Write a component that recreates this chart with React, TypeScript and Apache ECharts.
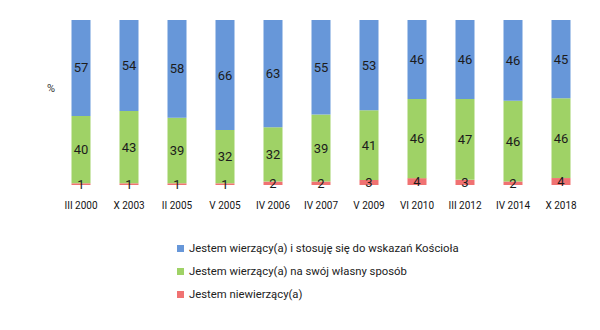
import React, { useEffect, useRef } from "react";
import * as echarts from "echarts";

const categories = [
  "III 2000", "X 2003", "II 2005", "V 2005", "IV 2006", "IV 2007",
  "V 2009", "VI 2010", "III 2012", "IV 2014", "X 2018",
];
const seriesNames = [
  "Jestem wierzący(a) i stosuję się do wskazań Kościoła",
  "Jestem wierzący(a) na swój własny sposób",
  "Jestem niewierzący(a)",
];
const followChurch = [57, 54, 58, 66, 63, 55, 53, 46, 46, 46, 45];
const ownWay = [40, 43, 39, 32, 32, 39, 41, 46, 47, 46, 46];
const nonBelievers = [1, 1, 1, 1, 2, 2, 3, 4, 3, 2, 4];
const colors = ["#6797d9", "#9fd266", "#f07272"];

export default function App() {
  const ref = useRef<HTMLDivElement>(null);
  useEffect(() => {
    if (!ref.current) return;
    const chart = echarts.init(ref.current, undefined, { renderer: "svg" });
    const raw = [nonBelievers, ownWay, followChurch];
    const names = [seriesNames[2], seriesNames[1], seriesNames[0]];
    const cols = [colors[2], colors[1], colors[0]];
    // each column is scaled to 100% of the answers shown
    const totals = categories.map((_, i) => raw.reduce((s, arr) => s + arr[i], 0));
    const series = raw.map((arr, k) => ({
      name: names[k],
      type: "bar",
      stack: "all",
      barWidth: 19,
      itemStyle: { color: cols[k] },
      data: arr.map((v, i) => ({ value: (v / totals[i]) * 100, raw: v })),
      label: {
        show: true,
        position: "inside",
        color: "#1c1c1c",
        fontSize: 13,
        fontFamily: "Roboto",
        formatter: (p: any) => String(p.data.raw),
      },
    }));
    chart.setOption({
      animation: false,
      grid: { left: 57, right: 15, top: 20, bottom: 145 },
      xAxis: {
        type: "category",
        data: categories,
        axisLine: { show: false },
        axisTick: { show: false },
        axisLabel: {
          color: "#151515",
          fontSize: 10,
          fontFamily: "Roboto",
          margin: 15,
          interval: 0,
        },
      },
      yAxis: {
        type: "value",
        min: 0,
        max: 100,
        show: false,
      },
      legend: {
        orient: "vertical",
        left: 172,
        top: 238,
        itemWidth: 7,
        itemHeight: 7,
        itemGap: 12,
        icon: "rect",
        data: [seriesNames[0], seriesNames[1], seriesNames[2]],
        textStyle: { color: "#222", fontSize: 11.3, fontFamily: "Roboto" },
      },
      graphic: [
        {
          type: "text",
          left: 47,
          top: 83,
          style: { text: "%", fill: "#333", fontSize: 11, fontFamily: "Roboto" },
        },
      ],
      series,
    });
    return () => chart.dispose();
  }, []);
  return (
    <div
      ref={ref}
      style={{ position: "absolute", left: 0, top: 0, width: 600, height: 330, background: "#fff" }}
    />
  );
}
